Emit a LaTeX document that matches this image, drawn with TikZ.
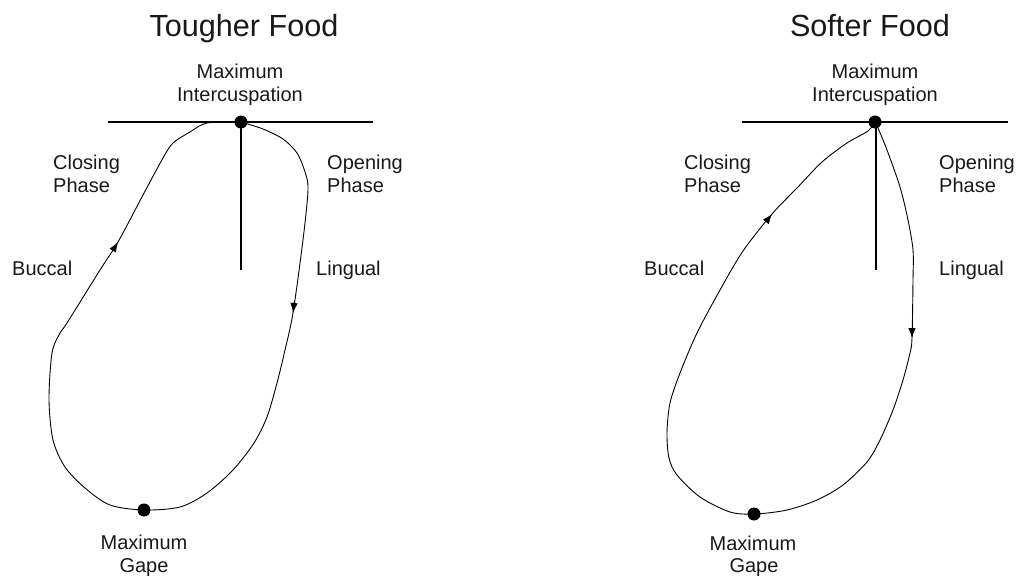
\documentclass[tikz,border=0pt]{standalone}
\usepackage{fontspec}
\setmainfont{Liberation Sans}
\usetikzlibrary{arrows.meta}
\begin{document}
\begin{tikzpicture}[x=1bp,y=-1bp,
  lbl/.style={inner sep=0pt, font=\fontsize{20bp}{24bp}\selectfont, text=black!90},
  ttl/.style={inner sep=0pt, font=\fontsize{30.6bp}{36bp}\selectfont, text=black!90},
  dotmark/.style={circle, fill=black, inner sep=0pt, minimum size=13bp},
  axisline/.style={line width=1.1bp},
  cycleline/.style={line width=0.9bp, line join=round},
  tipmark/.style={-{Latex[length=10bp,width=7.5bp]}, line width=0.9bp}]

\fill[white] (0,0) rectangle (1020,576);
\useasboundingbox (0,0) rectangle (1020,576);

% ---------------- Tougher food ----------------
\node[ttl, anchor=base] (tTitle) at (244,36.5) {Tougher Food};
\node[lbl, anchor=base] (tMaxA) at (240,78.5) {Maximum};
\node[lbl, anchor=base] (tMaxB) at (240,101.5) {Intercuspation};
\node[lbl, anchor=base west] (tCloA) at (53,169.5) {Closing};
\node[lbl, anchor=base west] (tCloB) at (53,193) {Phase};
\node[lbl, anchor=base west] (tOpnA) at (327,169.5) {Opening};
\node[lbl, anchor=base west] (tOpnB) at (327,193) {Phase};
\node[lbl, anchor=base west] (tBuc) at (12,276) {Buccal};
\node[lbl, anchor=base west] (tLin) at (316,276) {Lingual};
\node[lbl, anchor=base] (tGapA) at (144,549) {Maximum};
\node[lbl, anchor=base] (tGapB) at (144,572) {Gape};

\coordinate (tHL) at (108,122);
\coordinate (tHR) at (373,122);
\coordinate (tVB) at (241,270);
\draw[axisline] (tHL) -- (tHR);
\draw[axisline] (241,122) -- (tVB);

\draw[cycleline] plot[smooth, tension=0.5] coordinates {
  (241,122) (263,129) (283,139) (297,153) (305,172) (308,190) (303,240)
  (293,313) (285,350) (277,383) (267,417) (254,443) (233,470) (207,493)
  (180,507) (144,510) (110,505) (85,488) (65,467) (53,440) (49,400)
  (52,353) (60,333) (67,323) (100,270) (118,242) (143,195) (163,158)
  (173,143) (190,132) (207,123) (241,122)};

\coordinate (tArR0) at (294.3,301);
\coordinate (tArR1) at (293,313);
\coordinate (tArL0) at (112.3,251.4);
\coordinate (tArL1) at (118,242);
\draw[tipmark] (tArR0) -- (tArR1);
\draw[tipmark] (tArL0) -- (tArL1);

\node[dotmark] (tTop) at (241,122) {};
\node[dotmark] (tGape) at (144,510) {};

% ---------------- Softer food ----------------
\node[ttl, anchor=base] (sTitle) at (870,36.5) {Softer Food};
\node[lbl, anchor=base] (sMaxA) at (875,78.5) {Maximum};
\node[lbl, anchor=base] (sMaxB) at (875,101.5) {Intercuspation};
\node[lbl, anchor=base west] (sCloA) at (684,169.5) {Closing};
\node[lbl, anchor=base west] (sCloB) at (684,193) {Phase};
\node[lbl, anchor=base west] (sOpnA) at (939,169.5) {Opening};
\node[lbl, anchor=base west] (sOpnB) at (939,193) {Phase};
\node[lbl, anchor=base west] (sBuc) at (644,276) {Buccal};
\node[lbl, anchor=base west] (sLin) at (939,276) {Lingual};
\node[lbl, anchor=base] (sGapA) at (753,550.5) {Maximum};
\node[lbl, anchor=base] (sGapB) at (754,572.5) {Gape};

\coordinate (sHL) at (742,122);
\coordinate (sHR) at (1008,122);
\coordinate (sVB) at (876,270);
\draw[axisline] (sHL) -- (sHR);
\draw[axisline] (876,122) -- (sVB);

\draw[cycleline] plot[smooth, tension=0.5] coordinates {
  (875,122) (878,128) (887,150) (900,187) (908,220) (913,250) (913,280)
  (912,338) (910,353) (903,380) (893,410) (880,440) (867,462) (843,485)
  (817,500) (787,510) (755,514) (730,512) (700,497) (677,475) (669,458)
  (667,433) (670,403) (680,373) (697,333) (720,290) (743,251) (772,214)
  (797,188) (822,162) (847,143) (868,131) (875,122)};

\coordinate (sArR0) at (912,326);
\coordinate (sArR1) at (912,338);
\coordinate (sArL0) at (765.8,222);
\coordinate (sArL1) at (772,214);
\draw[tipmark] (sArR0) -- (sArR1);
\draw[tipmark] (sArL0) -- (sArL1);

\node[dotmark] (sTop) at (875,122) {};
\node[dotmark] (sGape) at (754,514) {};
\end{tikzpicture}
\end{document}
